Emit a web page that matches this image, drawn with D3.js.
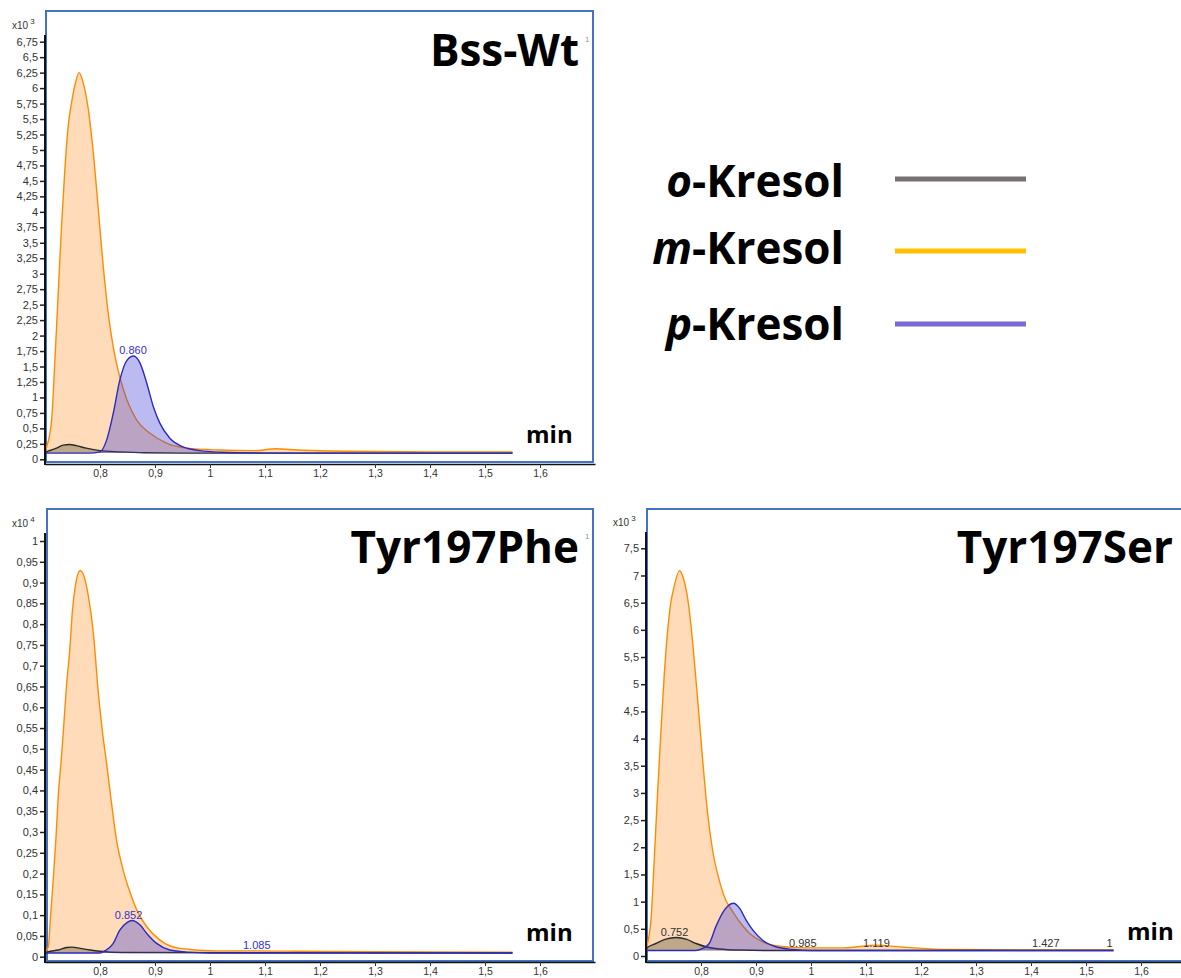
<!DOCTYPE html>
<html>
<head>
<meta charset="utf-8">
<script src="https://cdn.jsdelivr.net/npm/d3@7"></script>
<style>
  html, body { margin: 0; padding: 0; background: #ffffff; }
  svg { display: block; }
</style>
</head>
<body>
<svg id="chart" width="1181" height="978"></svg>
<script>
// ---------------- DATA ----------------
// Panel titles
const panelTitles = ["Bss-Wt", "Tyr197Phe", "Tyr197Ser"];
const panelExponents = ["3", "4", "3"];

// Legend
const legendNames = ["o", "m", "p"];
const legendColors = ["#767171", "#FFC000", "#7A6AD2"];

// x ticks (min)
const xTicks = [0.8, 0.9, 1.0, 1.1, 1.2, 1.3, 1.4, 1.5, 1.6];

// y ticks
const yTicksWt = [0, 0.25, 0.5, 0.75, 1, 1.25, 1.5, 1.75, 2, 2.25, 2.5, 2.75, 3, 3.25, 3.5, 3.75, 4, 4.25, 4.5, 4.75, 5, 5.25, 5.5, 5.75, 6, 6.25, 6.5, 6.75];
const yTicksPhe = [0, 0.05, 0.1, 0.15, 0.2, 0.25, 0.3, 0.35, 0.4, 0.45, 0.5, 0.55, 0.6, 0.65, 0.7, 0.75, 0.8, 0.85, 0.9, 0.95, 1];
const yTicksSer = [0, 0.5, 1, 1.5, 2, 2.5, 3, 3.5, 4, 4.5, 5, 5.5, 6, 6.5, 7, 7.5];

// Baselines of the traces
const wtBase = 0.10, pheBase = 0.009, serBase = 0.10;

// Bss-Wt (x10^3)  [time min, intensity]
const wtOrtho = [[0.70,0.10],[0.703,0.12],[0.712,0.15],[0.721,0.18],[0.733,0.23],[0.745,0.24],[0.757,0.22],[0.775,0.18],[0.80,0.14],[0.836,0.12],[0.88,0.105],[0.95,0.10],[1.55,0.10]];
const wtMeta = [[0.70,0.12],[0.703,0.2],[0.712,0.63],[0.718,1.6],[0.724,2.68],[0.730,3.76],[0.736,4.67],[0.742,5.37],[0.749,5.8],[0.755,6.07],[0.762,6.25],[0.769,6.1],[0.779,5.64],[0.788,4.94],[0.797,4.03],[0.806,3.11],[0.815,2.36],[0.824,1.82],[0.836,1.33],[0.849,0.96],[0.867,0.63],[0.891,0.42],[0.921,0.26],[0.958,0.18],[1.018,0.15],[1.08,0.14],[1.12,0.17],[1.16,0.15],[1.25,0.13],[1.4,0.12],[1.55,0.12]];
const wtPara = [[0.70,0.10],[0.78,0.10],[0.80,0.12],[0.812,0.31],[0.824,0.74],[0.836,1.28],[0.849,1.6],[0.861,1.67],[0.873,1.55],[0.885,1.23],[0.897,0.85],[0.909,0.58],[0.927,0.34],[0.951,0.2],[0.982,0.14],[1.02,0.115],[1.1,0.10],[1.55,0.10]];
const wtLabels = [[0.860, 1.67, "0.860"]];

// Tyr197Phe (x10^4)
const pheOrtho = [[0.70,0.009],[0.706,0.012],[0.724,0.016],[0.739,0.022],[0.749,0.023],[0.764,0.02],[0.782,0.016],[0.80,0.013],[0.84,0.01],[1.55,0.009]];
const pheMeta = [[0.70,0.012],[0.706,0.024],[0.710,0.096],[0.715,0.185],[0.720,0.287],[0.724,0.385],[0.729,0.465],[0.733,0.535],[0.739,0.65],[0.745,0.738],[0.750,0.834],[0.755,0.89],[0.764,0.929],[0.773,0.906],[0.779,0.866],[0.788,0.778],[0.797,0.634],[0.805,0.535],[0.812,0.465],[0.821,0.369],[0.830,0.281],[0.842,0.209],[0.855,0.153],[0.867,0.112],[0.885,0.072],[0.909,0.04],[0.945,0.02],[1.012,0.014],[1.085,0.014],[1.164,0.013],[1.3,0.012],[1.55,0.011]];
const phePara = [[0.70,0.009],[0.80,0.009],[0.806,0.012],[0.824,0.032],[0.836,0.064],[0.849,0.082],[0.858,0.087],[0.873,0.076],[0.885,0.056],[0.903,0.032],[0.927,0.016],[0.958,0.011],[1.0,0.009],[1.55,0.009]];
const pheLabels = [[0.852, 0.087, "0.852"], [1.085, 0.014, "1.085"]];

// Tyr197Ser (x10^3)
const serOrtho = [[0.70,0.10],[0.701,0.14],[0.718,0.23],[0.736,0.31],[0.755,0.34],[0.773,0.31],[0.791,0.23],[0.809,0.17],[0.833,0.13],[0.870,0.11],[0.95,0.10],[1.55,0.10]];
const serMeta = [[0.70,0.14],[0.701,0.17],[0.709,0.66],[0.715,1.77],[0.721,2.99],[0.727,4.1],[0.733,5.14],[0.739,5.94],[0.745,6.49],[0.751,6.79],[0.761,7.09],[0.768,6.95],[0.777,6.49],[0.785,5.75],[0.794,4.71],[0.803,3.61],[0.812,2.63],[0.821,1.95],[0.833,1.4],[0.845,1.03],[0.857,0.83],[0.870,0.63],[0.888,0.42],[0.912,0.26],[0.943,0.18],[0.991,0.15],[1.06,0.15],[1.119,0.2],[1.17,0.16],[1.25,0.12],[1.4,0.11],[1.55,0.11]];
const serPara = [[0.70,0.10],[0.79,0.10],[0.803,0.14],[0.815,0.23],[0.827,0.54],[0.839,0.79],[0.848,0.91],[0.859,0.97],[0.870,0.88],[0.882,0.66],[0.894,0.48],[0.912,0.29],[0.936,0.17],[0.967,0.12],[1.0,0.10],[1.55,0.10]];
const serLabels = [[0.752, 0.34, "0.752"], [0.985, 0.12, "0.985"], [1.119, 0.12, "1.119"], [1.427, 0.12, "1.427"], [1.543, 0.12, "1"]];

// ---------------- DRAWING ----------------
const svg = d3.select("#chart");
const fmt = v => String(+v.toFixed(2)).replace(".", ",");

const styles = {
  meta:  { line: "#FF8C00", fill: "rgba(255,165,79,0.40)" },
  ortho: { line: "#2a2a2a", fill: "rgba(60,60,40,0.33)" },
  para:  { line: "#2B2BC0", fill: "rgba(60,60,215,0.35)" }
};

function drawPanel(cfg) {
  const g = svg.append("g");
  const x = d3.scaleLinear().domain([0.7, 1.7]).range([cfg.x0, cfg.x0 + 550]);
  const y = d3.scaleLinear().domain([0, cfg.yMax]).range([cfg.yZero, cfg.yMaxPx]);

  // frame
  g.append("rect")
    .attr("x", cfg.box[0]).attr("y", cfg.box[1])
    .attr("width", cfg.box[2]).attr("height", cfg.box[3])
    .attr("fill", "none").attr("stroke", "#4472C4").attr("stroke-width", 2);

  // traces
  const order = [["meta", cfg.meta], ["ortho", cfg.ortho], ["para", cfg.para]];
  order.forEach(([key, data]) => {
    const area = d3.area().curve(d3.curveMonotoneX)
      .x(d => x(d[0])).y0(y(cfg.base)).y1(d => y(d[1]));
    const line = d3.line().curve(d3.curveMonotoneX)
      .x(d => x(d[0])).y(d => y(d[1]));
    g.append("path").datum(data).attr("d", area).attr("fill", styles[key].fill);
    g.append("path").datum(data).attr("d", line)
      .attr("fill", "none").attr("stroke", styles[key].line).attr("stroke-width", 1.4);
  });

  // peak labels
  g.selectAll("text.peak").data(cfg.labels).enter().append("text")
    .attr("class", "peak")
    .attr("x", d => x(d[0])).attr("y", d => y(d[1]) - 2)
    .attr("text-anchor", "middle")
    .attr("font-family", "Liberation Sans, Arial, sans-serif")
    .attr("font-size", 11)
    .attr("fill", cfg.labelColor)
    .text(d => d[2]);

  // y axis
  const yAxis = d3.axisLeft(y).tickValues(cfg.yTicks).tickFormat(fmt).tickSize(5).tickSizeOuter(0).tickPadding(2);
  const ya = g.append("g").attr("transform", `translate(${cfg.x0},0)`).call(yAxis);
  ya.select(".domain").remove();
  ya.selectAll(".tick line").attr("stroke", "#222").attr("stroke-width", 1.5);
  ya.selectAll(".tick text").attr("font-family", "Liberation Sans, Arial, sans-serif")
    .attr("font-size", 11).attr("fill", "#333");
  g.append("line").attr("x1", cfg.x0).attr("x2", cfg.x0)
    .attr("y1", cfg.axisTop).attr("y2", cfg.axisBottom + 1)
    .attr("stroke", "#111").attr("stroke-width", 2);

  // x axis
  const xAxis = d3.axisBottom(x).tickValues(xTicks).tickFormat(fmt).tickSize(4).tickSizeOuter(0).tickPadding(2);
  const xa = g.append("g").attr("transform", `translate(0,${cfg.axisBottom})`).call(xAxis);
  xa.select(".domain").attr("stroke", "#111").attr("stroke-width", 1.5);
  xa.selectAll(".tick line").attr("stroke", "#333");
  xa.selectAll(".tick text").attr("font-family", "Liberation Sans, Arial, sans-serif")
    .attr("font-size", 10.5).attr("fill", "#333");

  // exponent label
  const ex = g.append("text").attr("x", cfg.x0 - 33).attr("y", cfg.axisTop - 6)
    .attr("font-family", "Liberation Sans, Arial, sans-serif").attr("font-size", 10).attr("fill", "#333");
  ex.append("tspan").text("x10");
  ex.append("tspan").attr("dy", -5).attr("dx", 2).attr("font-size", 8).text(cfg.exp);

  // title
  g.append("text").attr("x", cfg.titleX).attr("y", cfg.titleY)
    .attr("text-anchor", "end")
    .attr("font-family", "Open Sans, sans-serif").attr("font-weight", 700)
    .attr("font-size", 44).attr("fill", "#000").text(cfg.title);
  if (cfg.smallOne) {
    g.append("text").attr("x", cfg.titleX + 6).attr("y", cfg.titleY - 24)
      .attr("font-family", "Liberation Sans, Arial, sans-serif").attr("font-size", 8).attr("fill", "#999").text("1");
  }

  // min label
  g.append("text").attr("x", cfg.minX).attr("y", cfg.minY)
    .attr("font-family", "Open Sans, sans-serif").attr("font-weight", 700)
    .attr("font-size", 24).attr("fill", "#000").text("min");
}

drawPanel({
  x0: 45, yZero: 459.3, yMax: 6.75, yMaxPx: 41.7, axisTop: 35, axisBottom: 464,
  box: [46, 11, 547, 451], yTicks: yTicksWt, exp: panelExponents[0], base: wtBase,
  meta: wtMeta, ortho: wtOrtho, para: wtPara, labels: wtLabels, labelColor: "#3333CC",
  title: panelTitles[0], titleX: 579, titleY: 66, smallOne: true, minX: 526, minY: 443
});
drawPanel({
  x0: 45, yZero: 956.7, yMax: 1, yMaxPx: 541, axisTop: 533, axisBottom: 962,
  box: [47, 509, 546, 452], yTicks: yTicksPhe, exp: panelExponents[1], base: pheBase,
  meta: pheMeta, ortho: pheOrtho, para: phePara, labels: pheLabels, labelColor: "#3333CC",
  title: panelTitles[1], titleX: 579, titleY: 563, smallOne: true, minX: 526, minY: 941
});
drawPanel({
  x0: 646, yZero: 956, yMax: 7.5, yMaxPx: 548.3, axisTop: 532, axisBottom: 962,
  box: [647, 509, 560, 452], yTicks: yTicksSer, exp: panelExponents[2], base: serBase,
  meta: serMeta, ortho: serOrtho, para: serPara, labels: serLabels, labelColor: "#333333",
  title: panelTitles[2], titleX: 1173, titleY: 563, smallOne: false, minX: 1127, minY: 940
});

// legend
const legendY = [197, 264, 340];
const legendLineY = [179, 251, 324];
legendNames.forEach((n, i) => {
  const t = svg.append("text").attr("x", 844).attr("y", legendY[i])
    .attr("text-anchor", "end")
    .attr("font-family", "Open Sans, sans-serif").attr("font-weight", 700)
    .attr("font-size", 44).attr("fill", "#000");
  t.append("tspan").attr("font-style", "italic").text(n);
  t.append("tspan").text("-Kresol");
  svg.append("line").attr("x1", 895).attr("x2", 1026)
    .attr("y1", legendLineY[i]).attr("y2", legendLineY[i])
    .attr("stroke", legendColors[i]).attr("stroke-width", 5);
});
</script>
</body>
</html>
